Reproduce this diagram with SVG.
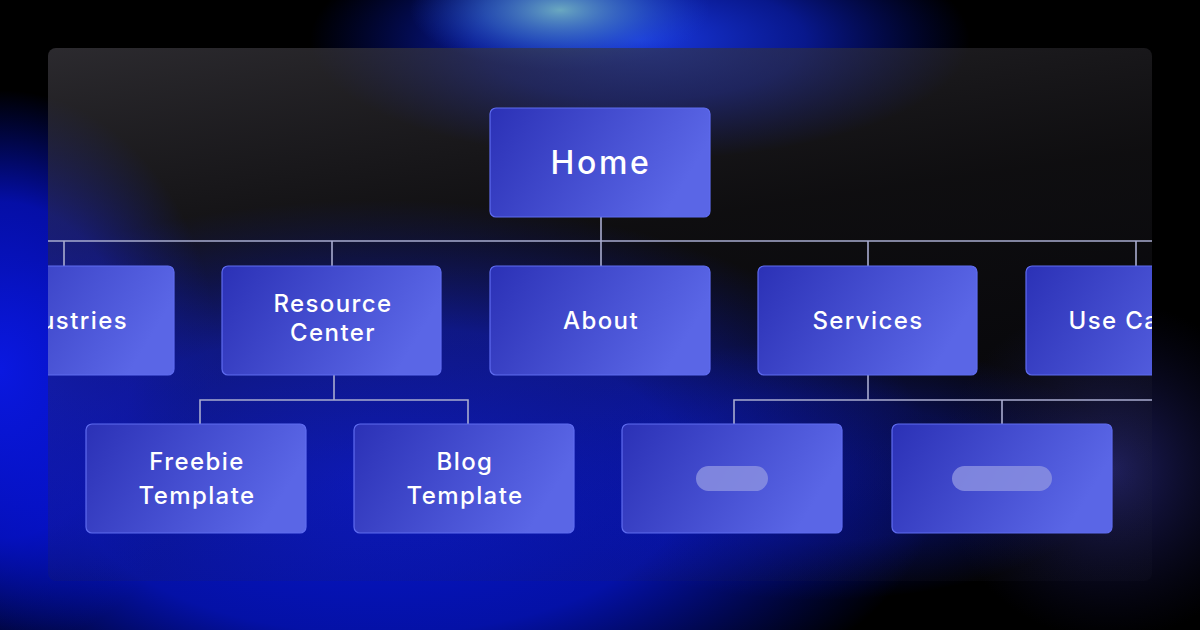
<svg xmlns="http://www.w3.org/2000/svg" width="1200" height="630" viewBox="0 0 1200 630">
<defs>
<radialGradient id="gBottom" cx="0.5" cy="0.5" r="0.5">
<stop offset="0" stop-color="#0716d0" stop-opacity="1"/>
<stop offset="0.55" stop-color="#0514c4" stop-opacity="0.85"/>
<stop offset="1" stop-color="#0010c0" stop-opacity="0"/>
</radialGradient>
<radialGradient id="gLeft" cx="0.5" cy="0.5" r="0.5">
<stop offset="0" stop-color="#0a18e0" stop-opacity="1"/>
<stop offset="0.6" stop-color="#0612d0" stop-opacity="0.8"/>
<stop offset="1" stop-color="#0010c0" stop-opacity="0"/>
</radialGradient>
<radialGradient id="gTop" cx="0.5" cy="0.5" r="0.5">
<stop offset="0" stop-color="#1a3ae0" stop-opacity="1"/>
<stop offset="0.5" stop-color="#0c22c8" stop-opacity="0.7"/>
<stop offset="1" stop-color="#0010b0" stop-opacity="0"/>
</radialGradient>
<radialGradient id="gCyan" cx="0.5" cy="0.5" r="0.5">
<stop offset="0" stop-color="#6aa8c0" stop-opacity="1"/>
<stop offset="0.5" stop-color="#3a70c8" stop-opacity="0.6"/>
<stop offset="1" stop-color="#1a40d0" stop-opacity="0"/>
</radialGradient>
<radialGradient id="gNavy" cx="0.5" cy="0.5" r="0.5">
<stop offset="0" stop-color="#22226a" stop-opacity="0.9"/>
<stop offset="1" stop-color="#101040" stop-opacity="0"/>
</radialGradient>
<linearGradient id="panelGrad" x1="0" y1="0" x2="0.3" y2="1">
<stop offset="0" stop-color="#3a383e" stop-opacity="0.75"/>
<stop offset="0.45" stop-color="#2a282e" stop-opacity="0.35"/>
<stop offset="1" stop-color="#2a2a40" stop-opacity="0.1"/>
</linearGradient>
<linearGradient id="nodeGrad" x1="0" y1="0" x2="1" y2="0.3">
<stop offset="0" stop-color="#2b31b6"/>
<stop offset="1" stop-color="#5a66e6"/>
</linearGradient>
<clipPath id="panelClip"><rect x="48" y="48" width="1104" height="533" rx="8"/></clipPath>
<style>
.node rect.box{fill:url(#nodeGrad);stroke:#5f6cf0;stroke-width:1.2;}
.lbl{font-family:Inter,"Liberation Sans",sans-serif;font-weight:500;fill:#ffffff;font-size:24px;text-anchor:middle;letter-spacing:1.4px;}
.home{font-size:32px;letter-spacing:2.6px;}
.conn{stroke:#a9acd0;stroke-width:1.6;fill:none;}
.pill{fill:#8a8fe0;opacity:0.85;}
</style>
</defs>
<rect width="1200" height="630" fill="#000000"/>
<g id="background">
<ellipse cx="640" cy="40" rx="330" ry="120" fill="url(#gTop)"/>
<ellipse cx="560" cy="10" rx="150" ry="60" fill="url(#gCyan)"/>
<ellipse cx="380" cy="480" rx="560" ry="280" fill="url(#gBottom)"/>
<ellipse cx="0" cy="370" rx="220" ry="280" fill="url(#gLeft)"/>
<ellipse cx="820" cy="470" rx="300" ry="130" fill="url(#gBottom)" opacity="0.45"/>
<ellipse cx="1110" cy="470" rx="170" ry="170" fill="url(#gNavy)"/>
</g>
<g id="panel">
<rect x="48" y="48" width="1104" height="533" rx="8" fill="url(#panelGrad)"/>
</g>
<g clip-path="url(#panelClip)">
<g id="connectors">
<line class="conn" x1="601" y1="217" x2="601" y2="266"/>
<line class="conn" x1="40" y1="241" x2="1160" y2="241"/>
<line class="conn" x1="64" y1="241" x2="64" y2="266"/>
<line class="conn" x1="332" y1="241" x2="332" y2="266"/>
<line class="conn" x1="868" y1="241" x2="868" y2="266"/>
<line class="conn" x1="1136" y1="241" x2="1136" y2="266"/>
<path class="conn" d="M334 375 V400 M200 424 V400 H468 V424"/>
<path class="conn" d="M868 375 V400 M734 424 V400 H1160 M1002 400 V424"/>
</g>
<g id="node-home" class="node"><rect class="box" x="490" y="108" width="220" height="109" rx="6"/><text class="lbl home" x="601" y="174">Home</text></g>
<g id="node-industries" class="node"><rect class="box" x="-46" y="266" width="220" height="109" rx="6"/><text class="lbl" x="64" y="329">Industries</text></g>
<g id="node-resource" class="node"><rect class="box" x="222" y="266" width="219" height="109" rx="6"/><text class="lbl" x="333" y="312">Resource</text><text class="lbl" x="333" y="341">Center</text></g>
<g id="node-about" class="node"><rect class="box" x="490" y="266" width="220" height="109" rx="6"/><text class="lbl" x="601" y="329">About</text></g>
<g id="node-services" class="node"><rect class="box" x="758" y="266" width="219" height="109" rx="6"/><text class="lbl" x="868" y="329">Services</text></g>
<g id="node-usecases" class="node"><rect class="box" x="1026" y="266" width="220" height="109" rx="6"/><text class="lbl" x="1136" y="329">Use Cases</text></g>
<g id="node-freebie" class="node"><rect class="box" x="86" y="424" width="220" height="109" rx="6"/><text class="lbl" x="197" y="470">Freebie</text><text class="lbl" x="197" y="504">Template</text></g>
<g id="node-blog" class="node"><rect class="box" x="354" y="424" width="220" height="109" rx="6"/><text class="lbl" x="465" y="470">Blog</text><text class="lbl" x="465" y="504">Template</text></g>
<g id="node-blank1" class="node"><rect class="box" x="622" y="424" width="220" height="109" rx="6"/><rect class="pill" x="696" y="466" width="72" height="25" rx="12.5"/></g>
<g id="node-blank2" class="node"><rect class="box" x="892" y="424" width="220" height="109" rx="6"/><rect class="pill" x="952" y="466" width="100" height="25" rx="12.5"/></g>
</g>
</svg>
